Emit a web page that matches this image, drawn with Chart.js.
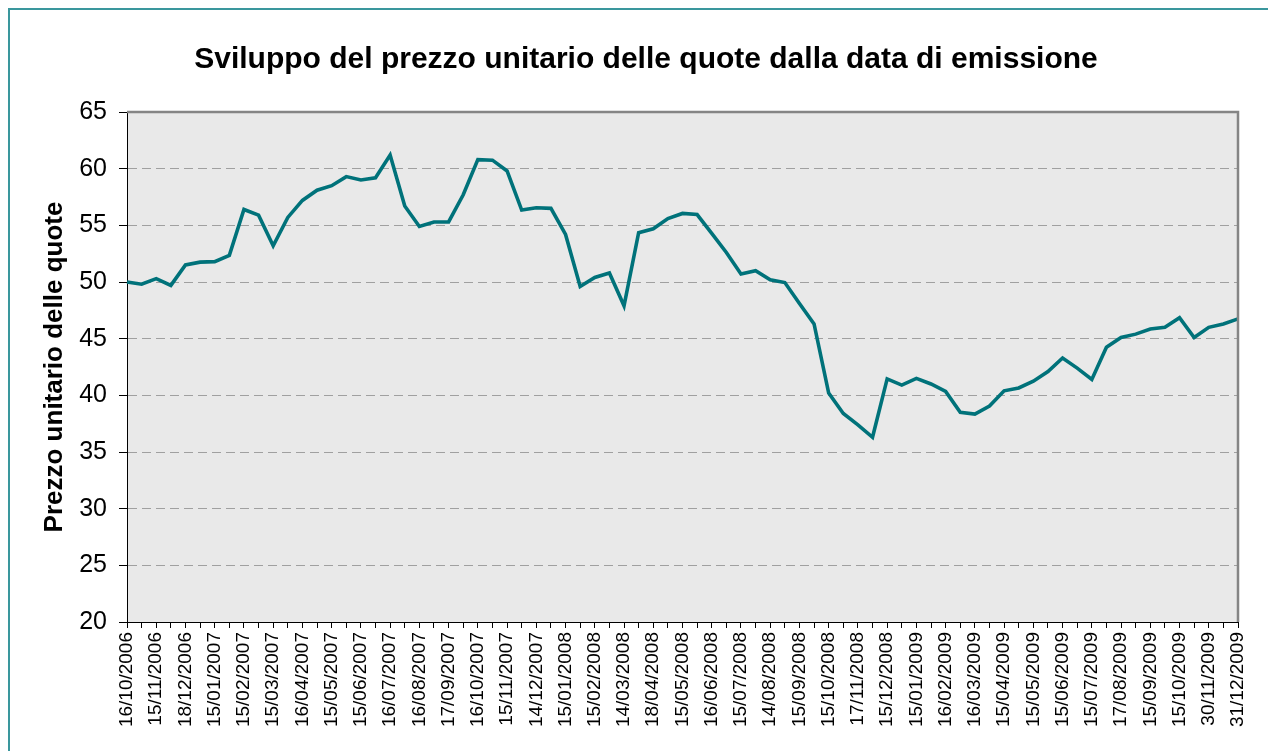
<!DOCTYPE html>
<html>
<head>
<meta charset="utf-8">
<script src="https://cdn.jsdelivr.net/npm/chart.js@4.4.1/dist/chart.umd.min.js"></script>
<style>
  html, body { margin: 0; padding: 0; background: #ffffff; overflow: hidden; }
  #wrap { position: relative; width: 1268px; height: 751px; }
  #frame { position: absolute; left: 8px; top: 8px; width: 1300px; height: 800px;
           border: 2px solid #3a979d; box-sizing: border-box; pointer-events: none; }
  canvas { position: absolute; left: 0; top: 0; }
</style>
</head>
<body>
<div id="wrap">
  <canvas id="c" width="1268" height="751"></canvas>
  <div id="frame"></div>
</div>
<script>
const chartTitle = 'Sviluppo del prezzo unitario delle quote dalla data di emissione';
const yAxisTitle = 'Prezzo unitario delle quote';

// labels shown under every second data point
const tickLabels = [
  '16/10/2006','15/11/2006','18/12/2006','15/01/2007','15/02/2007','15/03/2007',
  '16/04/2007','15/05/2007','15/06/2007','16/07/2007','16/08/2007','17/09/2007',
  '16/10/2007','15/11/2007','14/12/2007','15/01/2008','15/02/2008','14/03/2008',
  '18/04/2008','15/05/2008','16/06/2008','15/07/2008','14/08/2008','15/09/2008',
  '15/10/2008','17/11/2008','15/12/2008','15/01/2009','16/02/2009','16/03/2009',
  '15/04/2009','15/05/2009','15/06/2009','15/07/2009','17/08/2009','15/09/2009',
  '15/10/2009','30/11/2009','31/12/2009'
];

// unit price, one value per observation (77 observations)
const prices = [
  50.0, 49.8, 50.3, 49.7, 51.5, 51.75, 51.8, 52.35, 56.4, 55.9,
  53.2, 55.7, 57.2, 58.1, 58.5, 59.3, 59.0, 59.2, 61.2, 56.7,
  54.9, 55.3, 55.3, 57.7, 60.8, 60.75, 59.8, 56.35, 56.55, 56.5,
  54.2, 49.6, 50.4, 50.8, 47.9, 54.35, 54.7, 55.6, 56.05, 55.95,
  54.3, 52.6, 50.7, 51.0, 50.2, 49.95, 48.1, 46.3, 40.2, 38.4,
  37.4, 36.3, 41.45, 40.9, 41.5, 41.0, 40.35, 38.5, 38.35, 39.05,
  40.4, 40.65, 41.25, 42.1, 43.3, 42.4, 41.4, 44.25, 45.1, 45.4,
  45.85, 46.0, 46.85, 45.1, 46.0, 46.3, 46.75
];

const yMin = 20, yMax = 65, yStep = 5;

// categories: every even observation carries a date label
const categories = prices.map((_, i) => (i % 2 === 0 ? tickLabels[i / 2] : ''));

const FONT = '"Liberation Sans", Arial, Helvetica, sans-serif';

const plotFrame = {
  id: 'plotFrame',
  beforeDraw(chart) {
    const { ctx, chartArea: a } = chart;
    ctx.save();
    ctx.fillStyle = '#e9e9e9';
    ctx.fillRect(a.left, a.top, a.right - a.left, a.bottom - a.top);
    ctx.restore();
  },
  afterDatasetsDraw(chart) {
    const { ctx, chartArea: a } = chart;
    ctx.save();
    ctx.strokeStyle = '#858585';
    ctx.lineWidth = 2.5;
    ctx.beginPath();
    ctx.moveTo(a.left, a.top);
    ctx.lineTo(a.right, a.top);
    ctx.lineTo(a.right, a.bottom);
    ctx.stroke();
    ctx.restore();
  },
  afterDraw(chart) {
    const { ctx } = chart;
    ctx.save();
    ctx.fillStyle = '#000000';
    ctx.font = 'bold 30px ' + FONT;
    ctx.textAlign = 'center';
    ctx.textBaseline = 'middle';
    ctx.fillText(chartTitle, 646, 60);
    ctx.restore();
  }
};

new Chart(document.getElementById('c'), {
  type: 'line',
  data: {
    labels: categories,
    datasets: [{
      data: prices,
      borderColor: '#00727a',
      borderWidth: 3.6,
      pointRadius: 0,
      pointHoverRadius: 0,
      tension: 0,
      fill: false,
      clip: false
    }]
  },
  options: {
    responsive: false,
    animation: false,
    devicePixelRatio: 1,
    layout: { padding: { left: 0, right: 30, top: 112, bottom: 0 } },
    plugins: {
      legend: { display: false },
      tooltip: { enabled: false },
      title: { display: false }
    },
    scales: {
      x: {
        type: 'category',
        offset: false,
        afterFit(s) { s.height = 129; },
        grid: {
          display: true,
          drawOnChartArea: false,
          drawTicks: true,
          tickLength: 6,
          tickColor: '#000000',
          tickWidth: 1
        },
        border: { display: true, color: '#000000', width: 1 },
        ticks: {
          autoSkip: false,
          minRotation: 90,
          maxRotation: 90,
          padding: 4,
          color: '#000000',
          font: { family: FONT, size: 19 },
          callback(value, index) { return categories[index]; }
        }
      },
      y: {
        min: yMin,
        max: yMax,
        afterFit(s) { s.width = 127; },
        grid: {
          display: true,
          color: (c) => (c.tick && (c.tick.value === yMin || c.tick.value === yMax)) ? 'rgba(0,0,0,0)' : '#a0a0a0',
          lineWidth: 1,
          drawTicks: true,
          tickLength: 8,
          tickColor: '#000000',
          tickWidth: 1,
          tickBorderDash: [],
          tickBorderDashOffset: 0
        },
        border: { display: true, color: '#000000', width: 1, dash: [9, 5] },
        ticks: {
          stepSize: yStep,
          padding: 12,
          color: '#000000',
          font: { family: FONT, size: 25 }
        },
        title: {
          display: true,
          text: yAxisTitle,
          color: '#000000',
          font: { family: FONT, size: 26, weight: 'bold', lineHeight: 1.2 },
          padding: { top: 39.4, bottom: 0 }
        }
      }
    }
  },
  plugins: [plotFrame]
});
</script>
</body>
</html>
